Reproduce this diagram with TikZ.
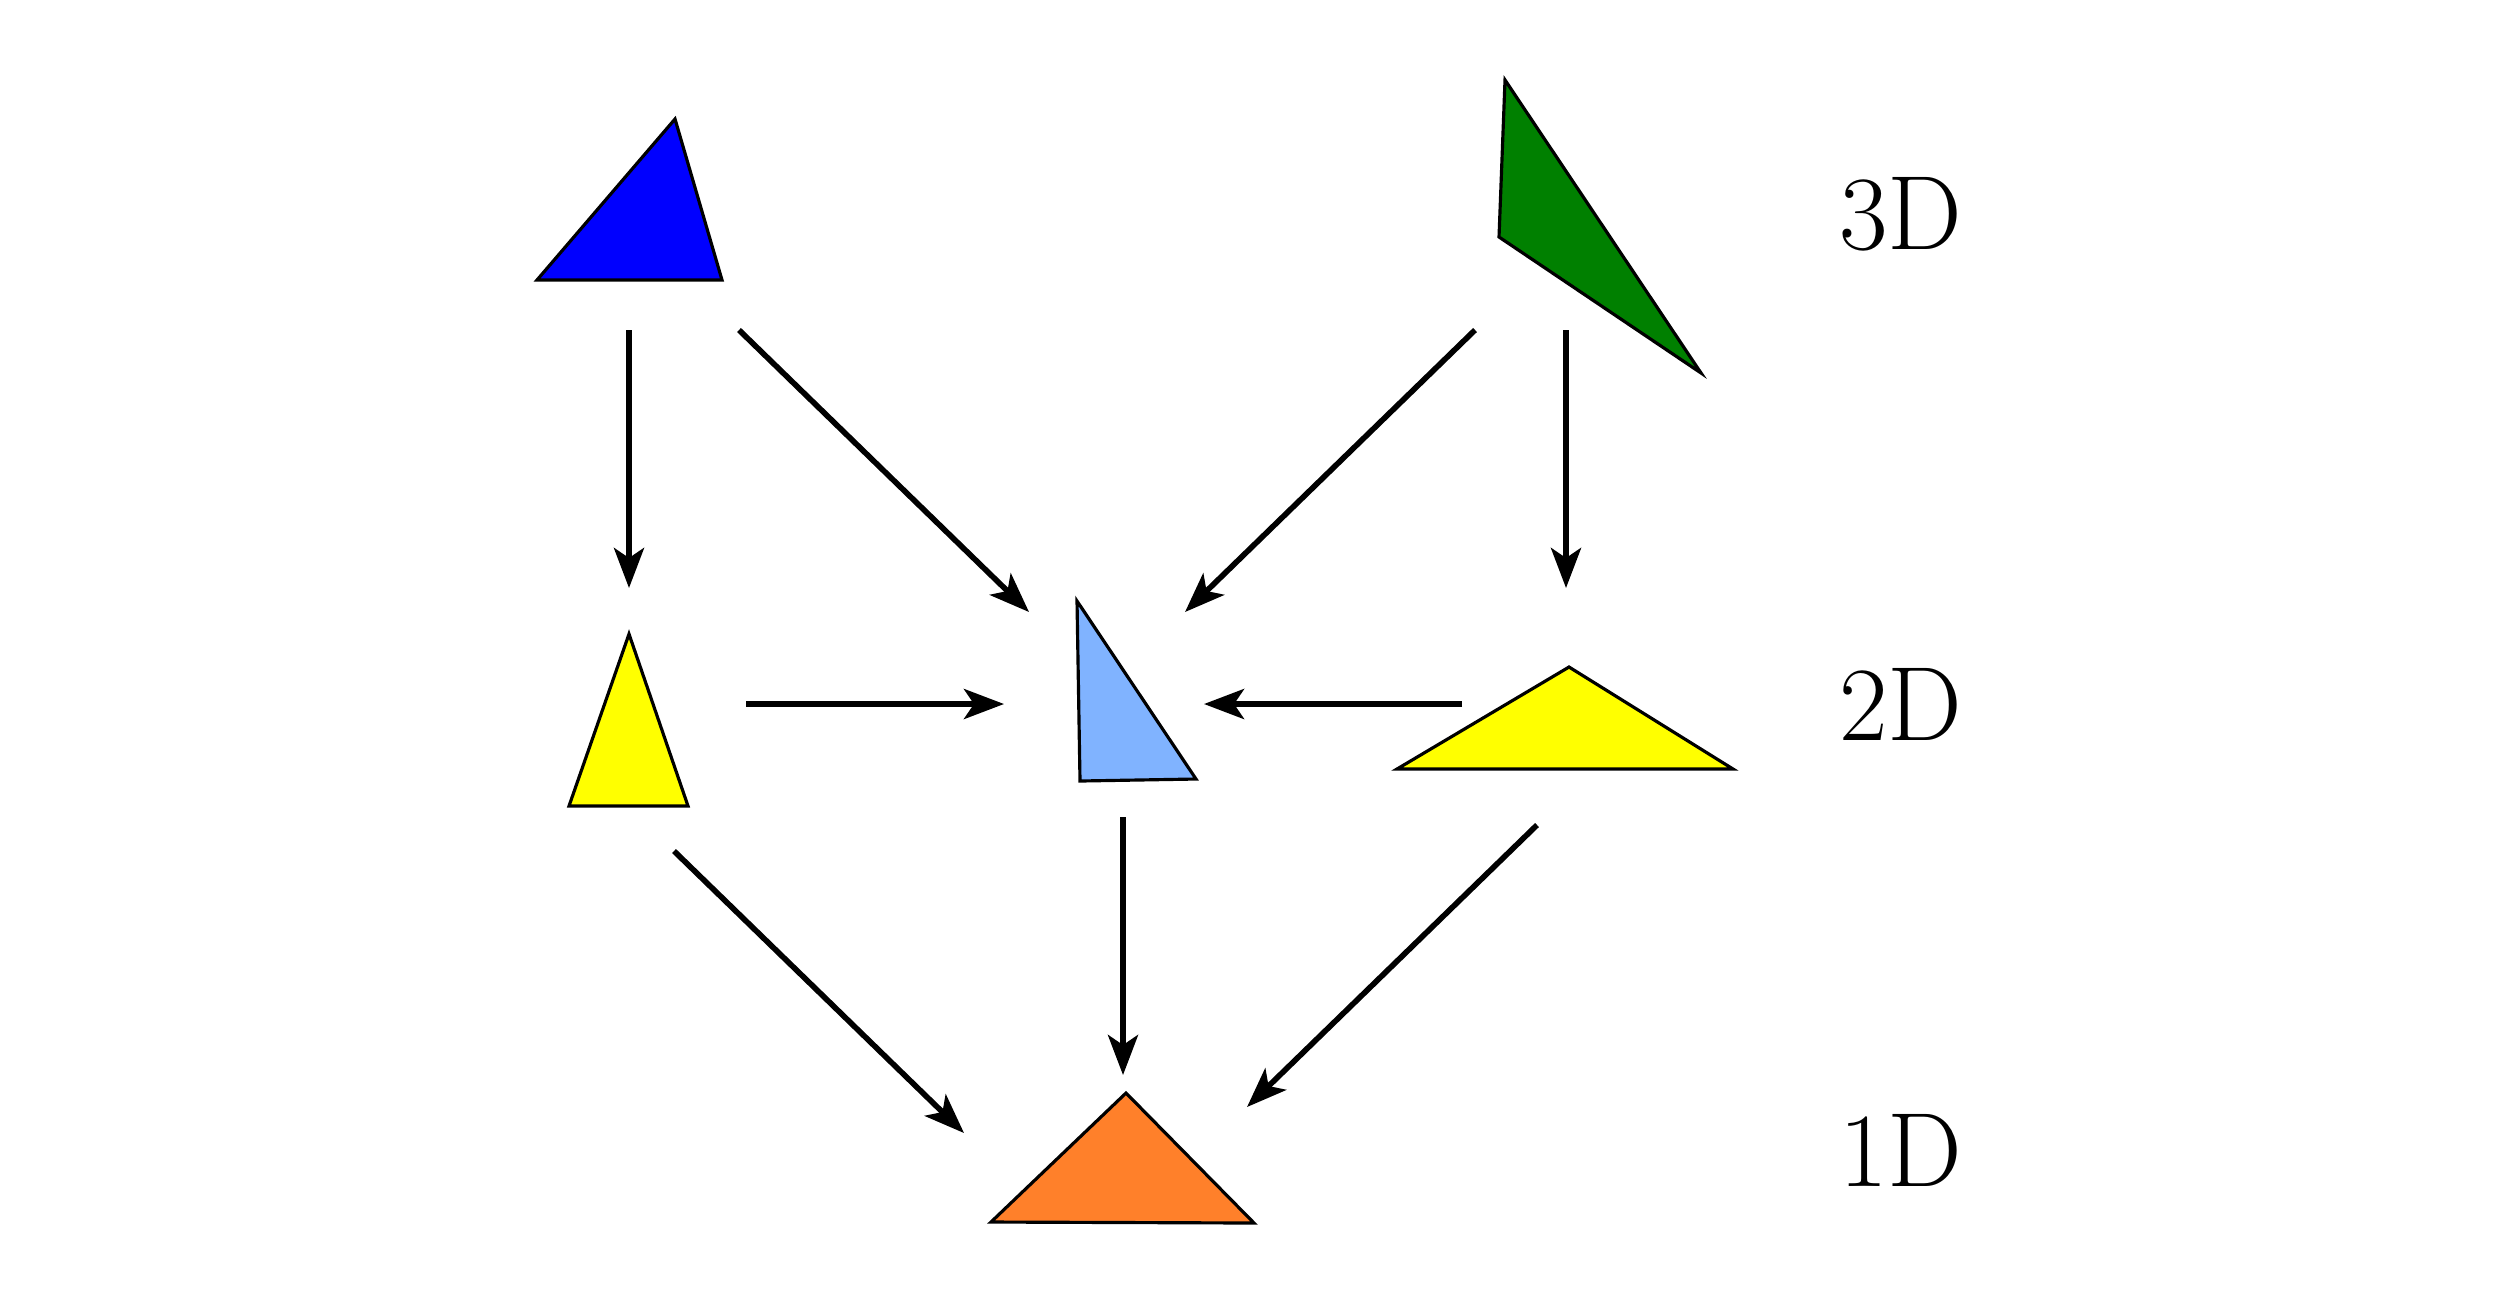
\documentclass[tikz,border=0pt]{standalone}
\usetikzlibrary{arrows.meta}
\definecolor{lightblue}{RGB}{128,179,255}
\definecolor{darkgreen}{RGB}{0,128,0}
\definecolor{orangeT}{RGB}{255,128,42}
\definecolor{yellowT}{RGB}{255,255,0}
\definecolor{blueT}{RGB}{0,0,255}
\begin{document}
\begin{tikzpicture}[x=0.01cm,y=-0.01cm,
        tri/.style={draw=black,line width=0.9pt,line join=miter},
        map/.style={line width=1.6pt,-{Stealth[length=0.4cm,width=0.3cm,inset=0.1cm]}},
        dim/.style={font=\fontsize{30}{36}\selectfont,inner sep=0pt}]
    \useasboundingbox (0,0) rectangle (2498,1302);

    % triangles
    \draw[tri,fill=blueT] (537,280) -- (675,119) -- (722,280) -- cycle;
    \draw[tri,fill=darkgreen] (1505,80) -- (1499,237) -- (1701,373) -- cycle;
    \draw[tri,fill=yellowT] (629,634) -- (569,806) -- (688,806) -- cycle;
    \draw[tri,fill=lightblue] (1077,601) -- (1080,781) -- (1196,779) -- cycle;
    \draw[tri,fill=yellowT] (1569,667) -- (1397,769) -- (1733,769) -- cycle;
    \draw[tri,fill=orangeT] (1126,1093) -- (991,1222) -- (1254,1223) -- cycle;

    % arrow ends
    \coordinate (b1) at (629,330);   \coordinate (y1) at (629,588);
    \coordinate (b2) at (739,330);   \coordinate (l1) at (1029,612);
    \coordinate (g1) at (1475,330);  \coordinate (l2) at (1185,612);
    \coordinate (g2) at (1566,330);  \coordinate (y2) at (1566,588);
    \coordinate (y3) at (746,704);   \coordinate (l3) at (1004,704);
    \coordinate (y4) at (1462,704);  \coordinate (l4) at (1204,704);
    \coordinate (y5) at (674,851);   \coordinate (o1) at (964,1133);
    \coordinate (l5) at (1123,817);  \coordinate (o2) at (1123,1075);
    \coordinate (y6) at (1537,825);  \coordinate (o3) at (1247,1107);

    \draw[map] (b1) -- (y1);
    \draw[map] (b2) -- (l1);
    \draw[map] (g1) -- (l2);
    \draw[map] (g2) -- (y2);
    \draw[map] (y3) -- (l3);
    \draw[map] (y4) -- (l4);
    \draw[map] (y5) -- (o1);
    \draw[map] (l5) -- (o2);
    \draw[map] (y6) -- (o3);

    % labels
    \node[dim] (d3) at (1901,214) {3D};
    \node[dim] (d2) at (1901,704) {2D};
    \node[dim] (d1) at (1901,1150) {1D};
\end{tikzpicture}
\end{document}
